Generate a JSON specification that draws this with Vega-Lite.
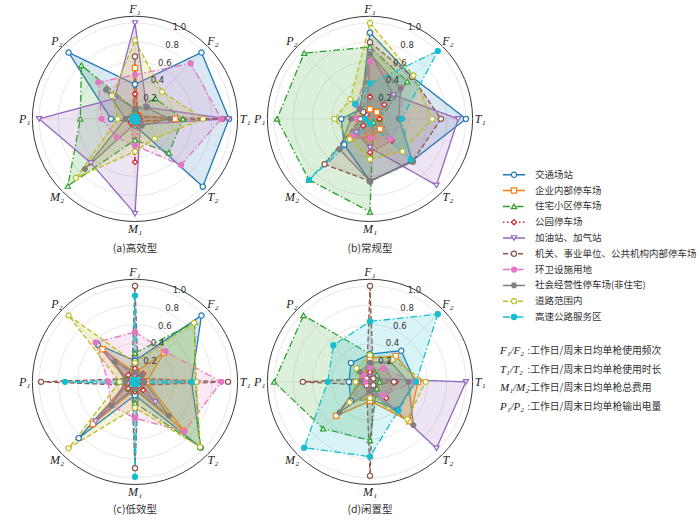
{
  "$schema": "https://vega.github.io/schema/vega-lite/v6.json",
  "padding": {"left": 18, "top": 0, "right": 0, "bottom": 0},
  "background": "white",
  "config": {"view": {"stroke": null}},
  "datasets": {
    "axes": [
      {"k": "F1", "i": 0, "lab": "F₁"}, {"k": "F2", "i": 1, "lab": "F₂"},
      {"k": "T1", "i": 2, "lab": "T₁"}, {"k": "T2", "i": 3, "lab": "T₂"},
      {"k": "M1", "i": 4, "lab": "M₁"}, {"k": "M2", "i": 5, "lab": "M₂"},
      {"k": "P1", "i": 6, "lab": "P₁"}, {"k": "P2", "i": 7, "lab": "P₂"}
    ],
    "series": [
      {"s": "交通场站", "n": 0},
      {"s": "企业内部停车场", "n": 1},
      {"s": "住宅小区停车场", "n": 2},
      {"s": "公园停车场", "n": 3},
      {"s": "加油站、加气站", "n": 4},
      {"s": "机关、事业单位、公共机构内部停车场", "n": 5},
      {"s": "环卫设施用地", "n": 6},
      {"s": "社会经营性停车场(非住宅)", "n": 7},
      {"s": "道路范围内", "n": 8},
      {"s": "高速公路服务区", "n": 9}
    ],
    "rings": [{"r": 0.2}, {"r": 0.4}, {"r": 0.6}, {"r": 0.8}, {"r": 1.0}, {"r": 1.07}],
    "caps": [
      {"p": "a", "t": "(a)高效型"}, {"p": "b", "t": "(b)常规型"},
      {"p": "c", "t": "(c)低效型"}, {"p": "d", "t": "(d)闲置型"}
    ],
    "notes": [
      {"sym": "F₁/F₂", "desc": ":工作日/周末日均单枪使用频次"},
      {"sym": "T₁/T₂", "desc": ":工作日/周末日均单枪使用时长"},
      {"sym": "M₁/M₂", "desc": ":工作日/周末日均单枪总费用"},
      {"sym": "P₁/P₂", "desc": ":工作日/周末日均单枪输出电量"}
    ],
    "pts": [
      {"p":"a","s":"交通场站","k":"F1","v":0.36},{"p":"a","s":"交通场站","k":"F2","v":0.98},{"p":"a","s":"交通场站","k":"T1","v":0.98},{"p":"a","s":"交通场站","k":"T2","v":1.0},{"p":"a","s":"交通场站","k":"M1","v":0.07},{"p":"a","s":"交通场站","k":"M2","v":0.05},{"p":"a","s":"交通场站","k":"P1","v":0.25},{"p":"a","s":"交通场站","k":"P2","v":0.98},
      {"p":"a","s":"企业内部停车场","k":"F1","v":0.53},{"p":"a","s":"企业内部停车场","k":"F2","v":0.05},{"p":"a","s":"企业内部停车场","k":"T1","v":0.42},{"p":"a","s":"企业内部停车场","k":"T2","v":0.05},{"p":"a","s":"企业内部停车场","k":"M1","v":0.05},{"p":"a","s":"企业内部停车场","k":"M2","v":0.04},{"p":"a","s":"企业内部停车场","k":"P1","v":0.05},{"p":"a","s":"企业内部停车场","k":"P2","v":0.03},
      {"p":"a","s":"住宅小区停车场","k":"F1","v":0.10},{"p":"a","s":"住宅小区停车场","k":"F2","v":0.30},{"p":"a","s":"住宅小区停车场","k":"T1","v":0.50},{"p":"a","s":"住宅小区停车场","k":"T2","v":0.50},{"p":"a","s":"住宅小区停车场","k":"M1","v":0.22},{"p":"a","s":"住宅小区停车场","k":"M2","v":0.99},{"p":"a","s":"住宅小区停车场","k":"P1","v":0.57},{"p":"a","s":"住宅小区停车场","k":"P2","v":0.79},
      {"p":"a","s":"公园停车场","k":"F1","v":0.26},{"p":"a","s":"公园停车场","k":"F2","v":0.05},{"p":"a","s":"公园停车场","k":"T1","v":0.05},{"p":"a","s":"公园停车场","k":"T2","v":0.05},{"p":"a","s":"公园停车场","k":"M1","v":0.45},{"p":"a","s":"公园停车场","k":"M2","v":0.06},{"p":"a","s":"公园停车场","k":"P1","v":0.06},{"p":"a","s":"公园停车场","k":"P2","v":0.03},
      {"p":"a","s":"加油站、加气站","k":"F1","v":1.0},{"p":"a","s":"加油站、加气站","k":"F2","v":0.17},{"p":"a","s":"加油站、加气站","k":"T1","v":0.97},{"p":"a","s":"加油站、加气站","k":"T2","v":0.08},{"p":"a","s":"加油站、加气站","k":"M1","v":0.99},{"p":"a","s":"加油站、加气站","k":"M2","v":0.65},{"p":"a","s":"加油站、加气站","k":"P1","v":1.0},{"p":"a","s":"加油站、加气站","k":"P2","v":0.30},
      {"p":"a","s":"机关、事业单位、公共机构内部停车场","k":"F1","v":0.65},{"p":"a","s":"机关、事业单位、公共机构内部停车场","k":"F2","v":0.03},{"p":"a","s":"机关、事业单位、公共机构内部停车场","k":"T1","v":0.91},{"p":"a","s":"机关、事业单位、公共机构内部停车场","k":"T2","v":0.03},{"p":"a","s":"机关、事业单位、公共机构内部停车场","k":"M1","v":0.03},{"p":"a","s":"机关、事业单位、公共机构内部停车场","k":"M2","v":0.03},{"p":"a","s":"机关、事业单位、公共机构内部停车场","k":"P1","v":0.05},{"p":"a","s":"机关、事业单位、公共机构内部停车场","k":"P2","v":0.03},
      {"p":"a","s":"环卫设施用地","k":"F1","v":0.46},{"p":"a","s":"环卫设施用地","k":"F2","v":0.82},{"p":"a","s":"环卫设施用地","k":"T1","v":0.90},{"p":"a","s":"环卫设施用地","k":"T2","v":0.68},{"p":"a","s":"环卫设施用地","k":"M1","v":0.28},{"p":"a","s":"环卫设施用地","k":"M2","v":0.27},{"p":"a","s":"环卫设施用地","k":"P1","v":0.35},{"p":"a","s":"环卫设施用地","k":"P2","v":0.54},
      {"p":"a","s":"社会经营性停车场(非住宅)","k":"F1","v":0.10},{"p":"a","s":"社会经营性停车场(非住宅)","k":"F2","v":0.17},{"p":"a","s":"社会经营性停车场(非住宅)","k":"T1","v":0.36},{"p":"a","s":"社会经营性停车场(非住宅)","k":"T2","v":0.10},{"p":"a","s":"社会经营性停车场(非住宅)","k":"M1","v":0.05},{"p":"a","s":"社会经营性停车场(非住宅)","k":"M2","v":0.74},{"p":"a","s":"社会经营性停车场(非住宅)","k":"P1","v":0.10},{"p":"a","s":"社会经营性停车场(非住宅)","k":"P2","v":0.43},
      {"p":"a","s":"道路范围内","k":"F1","v":0.82},{"p":"a","s":"道路范围内","k":"F2","v":0.40},{"p":"a","s":"道路范围内","k":"T1","v":0.71},{"p":"a","s":"道路范围内","k":"T2","v":0.29},{"p":"a","s":"道路范围内","k":"M1","v":0.34},{"p":"a","s":"道路范围内","k":"M2","v":0.87},{"p":"a","s":"道路范围内","k":"P1","v":0.18},{"p":"a","s":"道路范围内","k":"P2","v":0.34},
      {"p":"a","s":"高速公路服务区","k":"F1","v":0.03},{"p":"a","s":"高速公路服务区","k":"F2","v":0.03},{"p":"a","s":"高速公路服务区","k":"T1","v":0.03},{"p":"a","s":"高速公路服务区","k":"T2","v":0.03},{"p":"a","s":"高速公路服务区","k":"M1","v":0.03},{"p":"a","s":"高速公路服务区","k":"M2","v":0.03},{"p":"a","s":"高速公路服务区","k":"P1","v":0.03},{"p":"a","s":"高速公路服务区","k":"P2","v":0.03},

      {"p":"b","s":"交通场站","k":"F1","v":0.90},{"p":"b","s":"交通场站","k":"F2","v":0.62},{"p":"b","s":"交通场站","k":"T1","v":1.0},{"p":"b","s":"交通场站","k":"T2","v":0.62},{"p":"b","s":"交通场站","k":"M1","v":0.65},{"p":"b","s":"交通场站","k":"M2","v":0.38},{"p":"b","s":"交通场站","k":"P1","v":0.30},{"p":"b","s":"交通场站","k":"P2","v":0.14},
      {"p":"b","s":"企业内部停车场","k":"F1","v":0.10},{"p":"b","s":"企业内部停车场","k":"F2","v":0.10},{"p":"b","s":"企业内部停车场","k":"T1","v":0.10},{"p":"b","s":"企业内部停车场","k":"T2","v":0.15},{"p":"b","s":"企业内部停车场","k":"M1","v":0.20},{"p":"b","s":"企业内部停车场","k":"M2","v":0.28},{"p":"b","s":"企业内部停车场","k":"P1","v":0.10},{"p":"b","s":"企业内部停车场","k":"P2","v":0.05},
      {"p":"b","s":"住宅小区停车场","k":"F1","v":0.75},{"p":"b","s":"住宅小区停车场","k":"F2","v":0.55},{"p":"b","s":"住宅小区停车场","k":"T1","v":0.10},{"p":"b","s":"住宅小区停车场","k":"T2","v":0.05},{"p":"b","s":"住宅小区停车场","k":"M1","v":0.97},{"p":"b","s":"住宅小区停车场","k":"M2","v":0.90},{"p":"b","s":"住宅小区停车场","k":"P1","v":0.97},{"p":"b","s":"住宅小区停车场","k":"P2","v":0.97},
      {"p":"b","s":"公园停车场","k":"F1","v":0.23},{"p":"b","s":"公园停车场","k":"F2","v":0.21},{"p":"b","s":"公园停车场","k":"T1","v":0.10},{"p":"b","s":"公园停车场","k":"T2","v":0.32},{"p":"b","s":"公园停车场","k":"M1","v":0.35},{"p":"b","s":"公园停车场","k":"M2","v":0.10},{"p":"b","s":"公园停车场","k":"P1","v":0.05},{"p":"b","s":"公园停车场","k":"P2","v":0.05},
      {"p":"b","s":"加油站、加气站","k":"F1","v":0.70},{"p":"b","s":"加油站、加气站","k":"F2","v":0.35},{"p":"b","s":"加油站、加气站","k":"T1","v":0.92},{"p":"b","s":"加油站、加气站","k":"T2","v":0.98},{"p":"b","s":"加油站、加气站","k":"M1","v":0.30},{"p":"b","s":"加油站、加气站","k":"M2","v":0.20},{"p":"b","s":"加油站、加气站","k":"P1","v":0.05},{"p":"b","s":"加油站、加气站","k":"P2","v":0.05},
      {"p":"b","s":"机关、事业单位、公共机构内部停车场","k":"F1","v":0.80},{"p":"b","s":"机关、事业单位、公共机构内部停车场","k":"F2","v":0.62},{"p":"b","s":"机关、事业单位、公共机构内部停车场","k":"T1","v":0.74},{"p":"b","s":"机关、事业单位、公共机构内部停车场","k":"T2","v":0.63},{"p":"b","s":"机关、事业单位、公共机构内部停车场","k":"M1","v":0.65},{"p":"b","s":"机关、事业单位、公共机构内部停车场","k":"M2","v":0.67},{"p":"b","s":"机关、事业单位、公共机构内部停车场","k":"P1","v":0.10},{"p":"b","s":"机关、事业单位、公共机构内部停车场","k":"P2","v":0.10},
      {"p":"b","s":"环卫设施用地","k":"F1","v":0.60},{"p":"b","s":"环卫设施用地","k":"F2","v":0.46},{"p":"b","s":"环卫设施用地","k":"T1","v":0.34},{"p":"b","s":"环卫设施用地","k":"T2","v":0.30},{"p":"b","s":"环卫设施用地","k":"M1","v":0.20},{"p":"b","s":"环卫设施用地","k":"M2","v":0.25},{"p":"b","s":"环卫设施用地","k":"P1","v":0.15},{"p":"b","s":"环卫设施用地","k":"P2","v":0.20},
      {"p":"b","s":"社会经营性停车场(非住宅)","k":"F1","v":0.68},{"p":"b","s":"社会经营性停车场(非住宅)","k":"F2","v":0.45},{"p":"b","s":"社会经营性停车场(非住宅)","k":"T1","v":0.30},{"p":"b","s":"社会经营性停车场(非住宅)","k":"T2","v":0.63},{"p":"b","s":"社会经营性停车场(非住宅)","k":"M1","v":0.65},{"p":"b","s":"社会经营性停车场(非住宅)","k":"M2","v":0.45},{"p":"b","s":"社会经营性停车场(非住宅)","k":"P1","v":0.20},{"p":"b","s":"社会经营性停车场(非住宅)","k":"P2","v":0.15},
      {"p":"b","s":"道路范围内","k":"F1","v":1.0},{"p":"b","s":"道路范围内","k":"F2","v":0.64},{"p":"b","s":"道路范围内","k":"T1","v":0.65},{"p":"b","s":"道路范围内","k":"T2","v":0.48},{"p":"b","s":"道路范围内","k":"M1","v":0.42},{"p":"b","s":"道路范围内","k":"M2","v":0.30},{"p":"b","s":"道路范围内","k":"P1","v":0.37},{"p":"b","s":"道路范围内","k":"P2","v":0.29},
      {"p":"b","s":"高速公路服务区","k":"F1","v":0.37},{"p":"b","s":"高速公路服务区","k":"F2","v":1.0},{"p":"b","s":"高速公路服务区","k":"T1","v":0.33},{"p":"b","s":"高速公路服务区","k":"T2","v":0.60},{"p":"b","s":"高速公路服务区","k":"M1","v":0.05},{"p":"b","s":"高速公路服务区","k":"M2","v":0.90},{"p":"b","s":"高速公路服务区","k":"P1","v":0.05},{"p":"b","s":"高速公路服务区","k":"P2","v":0.22},

      {"p":"c","s":"交通场站","k":"F1","v":0.22},{"p":"c","s":"交通场站","k":"F2","v":0.98},{"p":"c","s":"交通场站","k":"T1","v":0.59},{"p":"c","s":"交通场站","k":"T2","v":0.97},{"p":"c","s":"交通场站","k":"M1","v":0.14},{"p":"c","s":"交通场站","k":"M2","v":0.83},{"p":"c","s":"交通场站","k":"P1","v":0.07},{"p":"c","s":"交通场站","k":"P2","v":0.55},
      {"p":"c","s":"企业内部停车场","k":"F1","v":0.10},{"p":"c","s":"企业内部停车场","k":"F2","v":0.43},{"p":"c","s":"企业内部停车场","k":"T1","v":0.12},{"p":"c","s":"企业内部停车场","k":"T2","v":0.72},{"p":"c","s":"企业内部停车场","k":"M1","v":0.08},{"p":"c","s":"企业内部停车场","k":"M2","v":0.62},{"p":"c","s":"企业内部停车场","k":"P1","v":0.08},{"p":"c","s":"企业内部停车场","k":"P2","v":0.48},
      {"p":"c","s":"住宅小区停车场","k":"F1","v":0.30},{"p":"c","s":"住宅小区停车场","k":"F2","v":0.88},{"p":"c","s":"住宅小区停车场","k":"T1","v":0.63},{"p":"c","s":"住宅小区停车场","k":"T2","v":0.96},{"p":"c","s":"住宅小区停车场","k":"M1","v":0.22},{"p":"c","s":"住宅小区停车场","k":"M2","v":0.10},{"p":"c","s":"住宅小区停车场","k":"P1","v":0.18},{"p":"c","s":"住宅小区停车场","k":"P2","v":0.10},
      {"p":"c","s":"公园停车场","k":"F1","v":0.14},{"p":"c","s":"公园停车场","k":"F2","v":0.12},{"p":"c","s":"公园停车场","k":"T1","v":0.10},{"p":"c","s":"公园停车场","k":"T2","v":0.12},{"p":"c","s":"公园停车场","k":"M1","v":0.10},{"p":"c","s":"公园停车场","k":"M2","v":0.10},{"p":"c","s":"公园停车场","k":"P1","v":0.10},{"p":"c","s":"公园停车场","k":"P2","v":0.10},
      {"p":"c","s":"加油站、加气站","k":"F1","v":0.05},{"p":"c","s":"加油站、加气站","k":"F2","v":0.05},{"p":"c","s":"加油站、加气站","k":"T1","v":0.05},{"p":"c","s":"加油站、加气站","k":"T2","v":0.30},{"p":"c","s":"加油站、加气站","k":"M1","v":0.05},{"p":"c","s":"加油站、加气站","k":"M2","v":0.58},{"p":"c","s":"加油站、加气站","k":"P1","v":0.05},{"p":"c","s":"加油站、加气站","k":"P2","v":0.57},
      {"p":"c","s":"机关、事业单位、公共机构内部停车场","k":"F1","v":1.0},{"p":"c","s":"机关、事业单位、公共机构内部停车场","k":"F2","v":0.05},{"p":"c","s":"机关、事业单位、公共机构内部停车场","k":"T1","v":0.97},{"p":"c","s":"机关、事业单位、公共机构内部停车场","k":"T2","v":0.05},{"p":"c","s":"机关、事业单位、公共机构内部停车场","k":"M1","v":0.90},{"p":"c","s":"机关、事业单位、公共机构内部停车场","k":"M2","v":0.05},{"p":"c","s":"机关、事业单位、公共机构内部停车场","k":"P1","v":0.98},{"p":"c","s":"机关、事业单位、公共机构内部停车场","k":"P2","v":0.05},
      {"p":"c","s":"环卫设施用地","k":"F1","v":0.52},{"p":"c","s":"环卫设施用地","k":"F2","v":0.45},{"p":"c","s":"环卫设施用地","k":"T1","v":0.90},{"p":"c","s":"环卫设施用地","k":"T2","v":0.73},{"p":"c","s":"环卫设施用地","k":"M1","v":0.38},{"p":"c","s":"环卫设施用地","k":"M2","v":0.35},{"p":"c","s":"环卫设施用地","k":"P1","v":0.28},{"p":"c","s":"环卫设施用地","k":"P2","v":0.58},
      {"p":"c","s":"社会经营性停车场(非住宅)","k":"F1","v":0.10},{"p":"c","s":"社会经营性停车场(非住宅)","k":"F2","v":0.10},{"p":"c","s":"社会经营性停车场(非住宅)","k":"T1","v":0.10},{"p":"c","s":"社会经营性停车场(非住宅)","k":"T2","v":0.50},{"p":"c","s":"社会经营性停车场(非住宅)","k":"M1","v":0.08},{"p":"c","s":"社会经营性停车场(非住宅)","k":"M2","v":0.35},{"p":"c","s":"社会经营性停车场(非住宅)","k":"P1","v":0.10},{"p":"c","s":"社会经营性停车场(非住宅)","k":"P2","v":0.30},
      {"p":"c","s":"道路范围内","k":"F1","v":0.20},{"p":"c","s":"道路范围内","k":"F2","v":0.87},{"p":"c","s":"道路范围内","k":"T1","v":0.64},{"p":"c","s":"道路范围内","k":"T2","v":0.96},{"p":"c","s":"道路范围内","k":"M1","v":0.27},{"p":"c","s":"道路范围内","k":"M2","v":0.98},{"p":"c","s":"道路范围内","k":"P1","v":0.16},{"p":"c","s":"道路范围内","k":"P2","v":0.98},
      {"p":"c","s":"高速公路服务区","k":"F1","v":0.90},{"p":"c","s":"高速公路服务区","k":"F2","v":0.03},{"p":"c","s":"高速公路服务区","k":"T1","v":0.59},{"p":"c","s":"高速公路服务区","k":"T2","v":0.03},{"p":"c","s":"高速公路服务区","k":"M1","v":0.99},{"p":"c","s":"高速公路服务区","k":"M2","v":0.03},{"p":"c","s":"高速公路服务区","k":"P1","v":0.73},{"p":"c","s":"高速公路服务区","k":"P2","v":0.03},

      {"p":"d","s":"交通场站","k":"F1","v":0.29},{"p":"d","s":"交通场站","k":"F2","v":0.46},{"p":"d","s":"交通场站","k":"T1","v":0.47},{"p":"d","s":"交通场站","k":"T2","v":0.41},{"p":"d","s":"交通场站","k":"M1","v":0.18},{"p":"d","s":"交通场站","k":"M2","v":0.28},{"p":"d","s":"交通场站","k":"P1","v":0.22},{"p":"d","s":"交通场站","k":"P2","v":0.28},
      {"p":"d","s":"企业内部停车场","k":"F1","v":0.25},{"p":"d","s":"企业内部停车场","k":"F2","v":0.38},{"p":"d","s":"企业内部停车场","k":"T1","v":0.50},{"p":"d","s":"企业内部停车场","k":"T2","v":0.58},{"p":"d","s":"企业内部停车场","k":"M1","v":0.20},{"p":"d","s":"企业内部停车场","k":"M2","v":0.50},{"p":"d","s":"企业内部停车场","k":"P1","v":0.10},{"p":"d","s":"企业内部停车场","k":"P2","v":0.10},
      {"p":"d","s":"住宅小区停车场","k":"F1","v":0.29},{"p":"d","s":"住宅小区停车场","k":"F2","v":0.10},{"p":"d","s":"住宅小区停车场","k":"T1","v":0.10},{"p":"d","s":"住宅小区停车场","k":"T2","v":0.10},{"p":"d","s":"住宅小区停车场","k":"M1","v":0.61},{"p":"d","s":"住宅小区停车场","k":"M2","v":0.69},{"p":"d","s":"住宅小区停车场","k":"P1","v":1.0},{"p":"d","s":"住宅小区停车场","k":"P2","v":0.98},
      {"p":"d","s":"公园停车场","k":"F1","v":0.10},{"p":"d","s":"公园停车场","k":"F2","v":0.20},{"p":"d","s":"公园停车场","k":"T1","v":0.27},{"p":"d","s":"公园停车场","k":"T2","v":0.24},{"p":"d","s":"公园停车场","k":"M1","v":0.14},{"p":"d","s":"公园停车场","k":"M2","v":0.05},{"p":"d","s":"公园停车场","k":"P1","v":0.05},{"p":"d","s":"公园停车场","k":"P2","v":0.05},
      {"p":"d","s":"加油站、加气站","k":"F1","v":0.05},{"p":"d","s":"加油站、加气站","k":"F2","v":0.05},{"p":"d","s":"加油站、加气站","k":"T1","v":1.0},{"p":"d","s":"加油站、加气站","k":"T2","v":0.98},{"p":"d","s":"加油站、加气站","k":"M1","v":0.05},{"p":"d","s":"加油站、加气站","k":"M2","v":0.05},{"p":"d","s":"加油站、加气站","k":"P1","v":0.05},{"p":"d","s":"加油站、加气站","k":"P2","v":0.05},
      {"p":"d","s":"机关、事业单位、公共机构内部停车场","k":"F1","v":1.0},{"p":"d","s":"机关、事业单位、公共机构内部停车场","k":"F2","v":0.05},{"p":"d","s":"机关、事业单位、公共机构内部停车场","k":"T1","v":0.25},{"p":"d","s":"机关、事业单位、公共机构内部停车场","k":"T2","v":0.05},{"p":"d","s":"机关、事业单位、公共机构内部停车场","k":"M1","v":0.98},{"p":"d","s":"机关、事业单位、公共机构内部停车场","k":"M2","v":0.05},{"p":"d","s":"机关、事业单位、公共机构内部停车场","k":"P1","v":0.70},{"p":"d","s":"机关、事业单位、公共机构内部停车场","k":"P2","v":0.05},
      {"p":"d","s":"环卫设施用地","k":"F1","v":0.15},{"p":"d","s":"环卫设施用地","k":"F2","v":0.20},{"p":"d","s":"环卫设施用地","k":"T1","v":0.45},{"p":"d","s":"环卫设施用地","k":"T2","v":0.20},{"p":"d","s":"环卫设施用地","k":"M1","v":0.15},{"p":"d","s":"环卫设施用地","k":"M2","v":0.30},{"p":"d","s":"环卫设施用地","k":"P1","v":0.05},{"p":"d","s":"环卫设施用地","k":"P2","v":0.10},
      {"p":"d","s":"社会经营性停车场(非住宅)","k":"F1","v":0.20},{"p":"d","s":"社会经营性停车场(非住宅)","k":"F2","v":0.30},{"p":"d","s":"社会经营性停车场(非住宅)","k":"T1","v":0.40},{"p":"d","s":"社会经营性停车场(非住宅)","k":"T2","v":0.64},{"p":"d","s":"社会经营性停车场(非住宅)","k":"M1","v":0.10},{"p":"d","s":"社会经营性停车场(非住宅)","k":"M2","v":0.45},{"p":"d","s":"社会经营性停车场(非住宅)","k":"P1","v":0.10},{"p":"d","s":"社会经营性停车场(非住宅)","k":"P2","v":0.15},
      {"p":"d","s":"道路范围内","k":"F1","v":0.28},{"p":"d","s":"道路范围内","k":"F2","v":0.33},{"p":"d","s":"道路范围内","k":"T1","v":0.58},{"p":"d","s":"道路范围内","k":"T2","v":0.55},{"p":"d","s":"道路范围内","k":"M1","v":0.17},{"p":"d","s":"道路范围内","k":"M2","v":0.30},{"p":"d","s":"道路范围内","k":"P1","v":0.15},{"p":"d","s":"道路范围内","k":"P2","v":0.20},
      {"p":"d","s":"高速公路服务区","k":"F1","v":0.63},{"p":"d","s":"高速公路服务区","k":"F2","v":1.0},{"p":"d","s":"高速公路服务区","k":"T1","v":0.48},{"p":"d","s":"高速公路服务区","k":"T2","v":0.42},{"p":"d","s":"高速公路服务区","k":"M1","v":0.78},{"p":"d","s":"高速公路服务区","k":"M2","v":0.97},{"p":"d","s":"高速公路服务区","k":"P1","v":0.44},{"p":"d","s":"高速公路服务区","k":"P2","v":0.54}
    ]
  },
  "spacing": 0,
  "hconcat": [
    {
      "spacing": 8,
      "vconcat": [
        {
          "spacing": 1,
          "hconcat": [
            {
              "width": 234, "height": 255,
              "resolve": {"scale": {"fill": "independent", "size": "independent"}},
              "layer": [
                {"data": {"name": "rings"}, "mark": {"type": "point", "shape": "circle", "filled": false, "opacity": 1},
                 "encoding": {"x": {"datum": 0, "type": "quantitative", "scale": {"domain": [-1.22, 1.22]}, "axis": null}, "y": {"datum": 0, "type": "quantitative", "scale": {"domain": [-1.42, 1.24]}, "axis": null},
                  "size": {"field": "r", "type": "quantitative", "scale": {"type": "pow", "exponent": 2, "domain": [0, 1], "range": [0, 36787]}, "legend": null},
                  "stroke": {"condition": {"test": "datum.r>1", "value": "#3a3a3a"}, "value": "#e2e2e2"},
                  "strokeWidth": {"condition": {"test": "datum.r>1", "value": 1}, "value": 0.8}}},
                {"data": {"name": "axes"}, "transform": [{"calculate": "PI/2-datum.i*PI/4", "as": "ang"}, {"calculate": "1.07*cos(datum.ang)", "as": "ex"}, {"calculate": "1.07*sin(datum.ang)", "as": "ey"}],
                 "mark": {"type": "rule", "color": "#e6e6e6", "strokeWidth": 0.8},
                 "encoding": {"x": {"field": "ex", "type": "quantitative", "scale": {"domain": [-1.22, 1.22]}, "axis": null}, "y": {"field": "ey", "type": "quantitative", "scale": {"domain": [-1.42, 1.24]}, "axis": null}, "x2": {"datum": 0}, "y2": {"datum": 0}}},
                {"data": {"name": "pts"}, "transform": [{"filter": "datum.p=='a'"}, {"lookup": "k", "from": {"data": {"name": "axes"}, "key": "k", "fields": ["i"]}}, {"lookup": "s", "from": {"data": {"name": "series"}, "key": "s", "fields": ["n"]}}, {"calculate": "PI/2-datum.i*PI/4", "as": "ang"}, {"calculate": "datum.v*cos(datum.ang)", "as": "x"}, {"calculate": "datum.v*sin(datum.ang)", "as": "y"}],
                 "mark": {"type": "line", "interpolate": "linear-closed", "strokeWidth": 1.3, "fillOpacity": 0.17},
                 "encoding": {"x": {"field": "x", "type": "quantitative", "scale": {"domain": [-1.22, 1.22]}, "axis": null}, "y": {"field": "y", "type": "quantitative", "scale": {"domain": [-1.42, 1.24]}, "axis": null}, "order": {"field": "i", "type": "quantitative"},
                  "color": {"field": "n", "type": "ordinal", "scale": {"domain": [0,1,2,3,4,5,6,7,8,9], "range": ["#1f77b4","#ff7f0e","#2ca02c","#d62728","#9467bd","#8c564b","#e377c2","#7f7f7f","#bcbd22","#17becf"]}, "legend": null},
                  "fill": {"field": "n", "type": "ordinal", "scale": {"domain": [0,1,2,3,4,5,6,7,8,9], "range": ["#1f77b4","#ff7f0e","#2ca02c","#d62728","#9467bd","#8c564b","#e377c2","#7f7f7f","#bcbd22","#17becf"]}, "legend": null},
                  "strokeDash": {"field": "n", "type": "ordinal", "scale": {"domain": [0,1,2,3,4,5,6,7,8,9], "range": [[1,0],[1,0],[7,2.5,1.5,2.5],[1.5,2.5],[1,0],[5,2.5],[7,2.5,1.5,2.5],[1,0],[5,2.5],[7,2.5,1.5,2.5]]}, "legend": null}}},
                {"data": {"name": "pts"}, "transform": [{"filter": "datum.p=='a'"}, {"lookup": "k", "from": {"data": {"name": "axes"}, "key": "k", "fields": ["i"]}}, {"lookup": "s", "from": {"data": {"name": "series"}, "key": "s", "fields": ["n"]}}, {"calculate": "PI/2-datum.i*PI/4", "as": "ang"}, {"calculate": "datum.v*cos(datum.ang)", "as": "x"}, {"calculate": "datum.v*sin(datum.ang)", "as": "y"}],
                 "mark": {"type": "point", "opacity": 1, "strokeWidth": 1.2, "fillOpacity": 1},
                 "encoding": {"x": {"field": "x", "type": "quantitative", "scale": {"domain": [-1.22, 1.22]}, "axis": null}, "y": {"field": "y", "type": "quantitative", "scale": {"domain": [-1.42, 1.24]}, "axis": null},
                  "color": {"field": "n", "type": "ordinal", "scale": {"domain": [0,1,2,3,4,5,6,7,8,9], "range": ["#1f77b4","#ff7f0e","#2ca02c","#d62728","#9467bd","#8c564b","#e377c2","#7f7f7f","#bcbd22","#17becf"]}, "legend": null},
                  "fill": {"field": "n", "type": "ordinal", "scale": {"domain": [0,1,2,3,4,5,6,7,8,9], "range": ["#ffffff","#ffffff","#ffffff","#ffffff","#ffffff","#ffffff","#e377c2","#7f7f7f","#ffffff","#17becf"]}, "legend": null},
                  "shape": {"field": "n", "type": "ordinal", "scale": {"domain": [0,1,2,3,4,5,6,7,8,9], "range": ["circle","square","triangle-up","diamond","triangle-down","circle","circle","M-1,0L-0.5,-0.866L0.5,-0.866L1,0L0.5,0.866L-0.5,0.866Z","circle","circle"]}, "legend": null},
                  "size": {"field": "n", "type": "ordinal", "scale": {"domain": [0,1,2,3,4,5,6,7,8,9], "range": [28,26,28,26,28,26,12,26,26,12]}, "legend": null}}},
                {"data": {"name": "rings"}, "transform": [{"filter": "datum.r<=1"}, {"calculate": "datum.r*cos(3*PI/8)", "as": "tx"}, {"calculate": "datum.r*sin(3*PI/8)", "as": "ty"}],
                 "mark": {"type": "text", "align": "left", "baseline": "middle", "dx": 1, "dy": -3, "fontSize": 8.5, "font": "DejaVu Sans", "color": "#333333"},
                 "encoding": {"x": {"field": "tx", "type": "quantitative", "scale": {"domain": [-1.22, 1.22]}, "axis": null}, "y": {"field": "ty", "type": "quantitative", "scale": {"domain": [-1.42, 1.24]}, "axis": null}, "text": {"field": "r", "type": "quantitative", "format": ".1f"}}},
                {"data": {"name": "axes"}, "transform": [{"calculate": "PI/2-datum.i*PI/4", "as": "ang"}, {"calculate": "1.15*cos(datum.ang)", "as": "lx"}, {"calculate": "1.15*sin(datum.ang)", "as": "ly"}],
                 "mark": {"type": "text", "font": "Liberation Serif", "fontStyle": "italic", "fontSize": 12, "color": "#222222"},
                 "encoding": {"x": {"field": "lx", "type": "quantitative", "scale": {"domain": [-1.22, 1.22]}, "axis": null}, "y": {"field": "ly", "type": "quantitative", "scale": {"domain": [-1.42, 1.24]}, "axis": null}, "text": {"field": "lab", "type": "nominal"}}},
                {"data": {"name": "caps"}, "transform": [{"filter": "datum.p=='a'"}],
                 "mark": {"type": "text", "font": "Noto Sans CJK SC", "fontSize": 10.5, "color": "#333333"},
                 "encoding": {"x": {"datum": 0, "type": "quantitative", "scale": {"domain": [-1.22, 1.22]}, "axis": null}, "y": {"datum": -1.36, "type": "quantitative", "scale": {"domain": [-1.42, 1.24]}, "axis": null}, "text": {"field": "t", "type": "nominal"}}}
              ]
            },
            {
              "width": 234, "height": 255,
              "resolve": {"scale": {"fill": "independent", "size": "independent"}},
              "layer": [
                {"data": {"name": "rings"}, "mark": {"type": "point", "shape": "circle", "filled": false, "opacity": 1},
                 "encoding": {"x": {"datum": 0, "type": "quantitative", "scale": {"domain": [-1.22, 1.22]}, "axis": null}, "y": {"datum": 0, "type": "quantitative", "scale": {"domain": [-1.42, 1.24]}, "axis": null},
                  "size": {"field": "r", "type": "quantitative", "scale": {"type": "pow", "exponent": 2, "domain": [0, 1], "range": [0, 36787]}, "legend": null},
                  "stroke": {"condition": {"test": "datum.r>1", "value": "#3a3a3a"}, "value": "#e2e2e2"},
                  "strokeWidth": {"condition": {"test": "datum.r>1", "value": 1}, "value": 0.8}}},
                {"data": {"name": "axes"}, "transform": [{"calculate": "PI/2-datum.i*PI/4", "as": "ang"}, {"calculate": "1.07*cos(datum.ang)", "as": "ex"}, {"calculate": "1.07*sin(datum.ang)", "as": "ey"}],
                 "mark": {"type": "rule", "color": "#e6e6e6", "strokeWidth": 0.8},
                 "encoding": {"x": {"field": "ex", "type": "quantitative", "scale": {"domain": [-1.22, 1.22]}, "axis": null}, "y": {"field": "ey", "type": "quantitative", "scale": {"domain": [-1.42, 1.24]}, "axis": null}, "x2": {"datum": 0}, "y2": {"datum": 0}}},
                {"data": {"name": "pts"}, "transform": [{"filter": "datum.p=='b'"}, {"lookup": "k", "from": {"data": {"name": "axes"}, "key": "k", "fields": ["i"]}}, {"lookup": "s", "from": {"data": {"name": "series"}, "key": "s", "fields": ["n"]}}, {"calculate": "PI/2-datum.i*PI/4", "as": "ang"}, {"calculate": "datum.v*cos(datum.ang)", "as": "x"}, {"calculate": "datum.v*sin(datum.ang)", "as": "y"}],
                 "mark": {"type": "line", "interpolate": "linear-closed", "strokeWidth": 1.3, "fillOpacity": 0.17},
                 "encoding": {"x": {"field": "x", "type": "quantitative", "scale": {"domain": [-1.22, 1.22]}, "axis": null}, "y": {"field": "y", "type": "quantitative", "scale": {"domain": [-1.42, 1.24]}, "axis": null}, "order": {"field": "i", "type": "quantitative"},
                  "color": {"field": "n", "type": "ordinal", "scale": {"domain": [0,1,2,3,4,5,6,7,8,9], "range": ["#1f77b4","#ff7f0e","#2ca02c","#d62728","#9467bd","#8c564b","#e377c2","#7f7f7f","#bcbd22","#17becf"]}, "legend": null},
                  "fill": {"field": "n", "type": "ordinal", "scale": {"domain": [0,1,2,3,4,5,6,7,8,9], "range": ["#1f77b4","#ff7f0e","#2ca02c","#d62728","#9467bd","#8c564b","#e377c2","#7f7f7f","#bcbd22","#17becf"]}, "legend": null},
                  "strokeDash": {"field": "n", "type": "ordinal", "scale": {"domain": [0,1,2,3,4,5,6,7,8,9], "range": [[1,0],[1,0],[7,2.5,1.5,2.5],[1.5,2.5],[1,0],[5,2.5],[7,2.5,1.5,2.5],[1,0],[5,2.5],[7,2.5,1.5,2.5]]}, "legend": null}}},
                {"data": {"name": "pts"}, "transform": [{"filter": "datum.p=='b'"}, {"lookup": "k", "from": {"data": {"name": "axes"}, "key": "k", "fields": ["i"]}}, {"lookup": "s", "from": {"data": {"name": "series"}, "key": "s", "fields": ["n"]}}, {"calculate": "PI/2-datum.i*PI/4", "as": "ang"}, {"calculate": "datum.v*cos(datum.ang)", "as": "x"}, {"calculate": "datum.v*sin(datum.ang)", "as": "y"}],
                 "mark": {"type": "point", "opacity": 1, "strokeWidth": 1.2, "fillOpacity": 1},
                 "encoding": {"x": {"field": "x", "type": "quantitative", "scale": {"domain": [-1.22, 1.22]}, "axis": null}, "y": {"field": "y", "type": "quantitative", "scale": {"domain": [-1.42, 1.24]}, "axis": null},
                  "color": {"field": "n", "type": "ordinal", "scale": {"domain": [0,1,2,3,4,5,6,7,8,9], "range": ["#1f77b4","#ff7f0e","#2ca02c","#d62728","#9467bd","#8c564b","#e377c2","#7f7f7f","#bcbd22","#17becf"]}, "legend": null},
                  "fill": {"field": "n", "type": "ordinal", "scale": {"domain": [0,1,2,3,4,5,6,7,8,9], "range": ["#ffffff","#ffffff","#ffffff","#ffffff","#ffffff","#ffffff","#e377c2","#7f7f7f","#ffffff","#17becf"]}, "legend": null},
                  "shape": {"field": "n", "type": "ordinal", "scale": {"domain": [0,1,2,3,4,5,6,7,8,9], "range": ["circle","square","triangle-up","diamond","triangle-down","circle","circle","M-1,0L-0.5,-0.866L0.5,-0.866L1,0L0.5,0.866L-0.5,0.866Z","circle","circle"]}, "legend": null},
                  "size": {"field": "n", "type": "ordinal", "scale": {"domain": [0,1,2,3,4,5,6,7,8,9], "range": [28,26,28,26,28,26,12,26,26,12]}, "legend": null}}},
                {"data": {"name": "rings"}, "transform": [{"filter": "datum.r<=1"}, {"calculate": "datum.r*cos(3*PI/8)", "as": "tx"}, {"calculate": "datum.r*sin(3*PI/8)", "as": "ty"}],
                 "mark": {"type": "text", "align": "left", "baseline": "middle", "dx": 1, "dy": -3, "fontSize": 8.5, "font": "DejaVu Sans", "color": "#333333"},
                 "encoding": {"x": {"field": "tx", "type": "quantitative", "scale": {"domain": [-1.22, 1.22]}, "axis": null}, "y": {"field": "ty", "type": "quantitative", "scale": {"domain": [-1.42, 1.24]}, "axis": null}, "text": {"field": "r", "type": "quantitative", "format": ".1f"}}},
                {"data": {"name": "axes"}, "transform": [{"calculate": "PI/2-datum.i*PI/4", "as": "ang"}, {"calculate": "1.15*cos(datum.ang)", "as": "lx"}, {"calculate": "1.15*sin(datum.ang)", "as": "ly"}],
                 "mark": {"type": "text", "font": "Liberation Serif", "fontStyle": "italic", "fontSize": 12, "color": "#222222"},
                 "encoding": {"x": {"field": "lx", "type": "quantitative", "scale": {"domain": [-1.22, 1.22]}, "axis": null}, "y": {"field": "ly", "type": "quantitative", "scale": {"domain": [-1.42, 1.24]}, "axis": null}, "text": {"field": "lab", "type": "nominal"}}},
                {"data": {"name": "caps"}, "transform": [{"filter": "datum.p=='b'"}],
                 "mark": {"type": "text", "font": "Noto Sans CJK SC", "fontSize": 10.5, "color": "#333333"},
                 "encoding": {"x": {"datum": 0, "type": "quantitative", "scale": {"domain": [-1.22, 1.22]}, "axis": null}, "y": {"datum": -1.36, "type": "quantitative", "scale": {"domain": [-1.42, 1.24]}, "axis": null}, "text": {"field": "t", "type": "nominal"}}}
              ]
            }
          ]
        },
        {
          "spacing": 1,
          "hconcat": [
            {
              "width": 234, "height": 255,
              "resolve": {"scale": {"fill": "independent", "size": "independent"}},
              "layer": [
                {"data": {"name": "rings"}, "mark": {"type": "point", "shape": "circle", "filled": false, "opacity": 1},
                 "encoding": {"x": {"datum": 0, "type": "quantitative", "scale": {"domain": [-1.22, 1.22]}, "axis": null}, "y": {"datum": 0, "type": "quantitative", "scale": {"domain": [-1.42, 1.24]}, "axis": null},
                  "size": {"field": "r", "type": "quantitative", "scale": {"type": "pow", "exponent": 2, "domain": [0, 1], "range": [0, 36787]}, "legend": null},
                  "stroke": {"condition": {"test": "datum.r>1", "value": "#3a3a3a"}, "value": "#e2e2e2"},
                  "strokeWidth": {"condition": {"test": "datum.r>1", "value": 1}, "value": 0.8}}},
                {"data": {"name": "axes"}, "transform": [{"calculate": "PI/2-datum.i*PI/4", "as": "ang"}, {"calculate": "1.07*cos(datum.ang)", "as": "ex"}, {"calculate": "1.07*sin(datum.ang)", "as": "ey"}],
                 "mark": {"type": "rule", "color": "#e6e6e6", "strokeWidth": 0.8},
                 "encoding": {"x": {"field": "ex", "type": "quantitative", "scale": {"domain": [-1.22, 1.22]}, "axis": null}, "y": {"field": "ey", "type": "quantitative", "scale": {"domain": [-1.42, 1.24]}, "axis": null}, "x2": {"datum": 0}, "y2": {"datum": 0}}},
                {"data": {"name": "pts"}, "transform": [{"filter": "datum.p=='c'"}, {"lookup": "k", "from": {"data": {"name": "axes"}, "key": "k", "fields": ["i"]}}, {"lookup": "s", "from": {"data": {"name": "series"}, "key": "s", "fields": ["n"]}}, {"calculate": "PI/2-datum.i*PI/4", "as": "ang"}, {"calculate": "datum.v*cos(datum.ang)", "as": "x"}, {"calculate": "datum.v*sin(datum.ang)", "as": "y"}],
                 "mark": {"type": "line", "interpolate": "linear-closed", "strokeWidth": 1.3, "fillOpacity": 0.17},
                 "encoding": {"x": {"field": "x", "type": "quantitative", "scale": {"domain": [-1.22, 1.22]}, "axis": null}, "y": {"field": "y", "type": "quantitative", "scale": {"domain": [-1.42, 1.24]}, "axis": null}, "order": {"field": "i", "type": "quantitative"},
                  "color": {"field": "n", "type": "ordinal", "scale": {"domain": [0,1,2,3,4,5,6,7,8,9], "range": ["#1f77b4","#ff7f0e","#2ca02c","#d62728","#9467bd","#8c564b","#e377c2","#7f7f7f","#bcbd22","#17becf"]}, "legend": null},
                  "fill": {"field": "n", "type": "ordinal", "scale": {"domain": [0,1,2,3,4,5,6,7,8,9], "range": ["#1f77b4","#ff7f0e","#2ca02c","#d62728","#9467bd","#8c564b","#e377c2","#7f7f7f","#bcbd22","#17becf"]}, "legend": null},
                  "strokeDash": {"field": "n", "type": "ordinal", "scale": {"domain": [0,1,2,3,4,5,6,7,8,9], "range": [[1,0],[1,0],[7,2.5,1.5,2.5],[1.5,2.5],[1,0],[5,2.5],[7,2.5,1.5,2.5],[1,0],[5,2.5],[7,2.5,1.5,2.5]]}, "legend": null}}},
                {"data": {"name": "pts"}, "transform": [{"filter": "datum.p=='c'"}, {"lookup": "k", "from": {"data": {"name": "axes"}, "key": "k", "fields": ["i"]}}, {"lookup": "s", "from": {"data": {"name": "series"}, "key": "s", "fields": ["n"]}}, {"calculate": "PI/2-datum.i*PI/4", "as": "ang"}, {"calculate": "datum.v*cos(datum.ang)", "as": "x"}, {"calculate": "datum.v*sin(datum.ang)", "as": "y"}],
                 "mark": {"type": "point", "opacity": 1, "strokeWidth": 1.2, "fillOpacity": 1},
                 "encoding": {"x": {"field": "x", "type": "quantitative", "scale": {"domain": [-1.22, 1.22]}, "axis": null}, "y": {"field": "y", "type": "quantitative", "scale": {"domain": [-1.42, 1.24]}, "axis": null},
                  "color": {"field": "n", "type": "ordinal", "scale": {"domain": [0,1,2,3,4,5,6,7,8,9], "range": ["#1f77b4","#ff7f0e","#2ca02c","#d62728","#9467bd","#8c564b","#e377c2","#7f7f7f","#bcbd22","#17becf"]}, "legend": null},
                  "fill": {"field": "n", "type": "ordinal", "scale": {"domain": [0,1,2,3,4,5,6,7,8,9], "range": ["#ffffff","#ffffff","#ffffff","#ffffff","#ffffff","#ffffff","#e377c2","#7f7f7f","#ffffff","#17becf"]}, "legend": null},
                  "shape": {"field": "n", "type": "ordinal", "scale": {"domain": [0,1,2,3,4,5,6,7,8,9], "range": ["circle","square","triangle-up","diamond","triangle-down","circle","circle","M-1,0L-0.5,-0.866L0.5,-0.866L1,0L0.5,0.866L-0.5,0.866Z","circle","circle"]}, "legend": null},
                  "size": {"field": "n", "type": "ordinal", "scale": {"domain": [0,1,2,3,4,5,6,7,8,9], "range": [28,26,28,26,28,26,12,26,26,12]}, "legend": null}}},
                {"data": {"name": "rings"}, "transform": [{"filter": "datum.r<=1"}, {"calculate": "datum.r*cos(3*PI/8)", "as": "tx"}, {"calculate": "datum.r*sin(3*PI/8)", "as": "ty"}],
                 "mark": {"type": "text", "align": "left", "baseline": "middle", "dx": 1, "dy": -3, "fontSize": 8.5, "font": "DejaVu Sans", "color": "#333333"},
                 "encoding": {"x": {"field": "tx", "type": "quantitative", "scale": {"domain": [-1.22, 1.22]}, "axis": null}, "y": {"field": "ty", "type": "quantitative", "scale": {"domain": [-1.42, 1.24]}, "axis": null}, "text": {"field": "r", "type": "quantitative", "format": ".1f"}}},
                {"data": {"name": "axes"}, "transform": [{"calculate": "PI/2-datum.i*PI/4", "as": "ang"}, {"calculate": "1.15*cos(datum.ang)", "as": "lx"}, {"calculate": "1.15*sin(datum.ang)", "as": "ly"}],
                 "mark": {"type": "text", "font": "Liberation Serif", "fontStyle": "italic", "fontSize": 12, "color": "#222222"},
                 "encoding": {"x": {"field": "lx", "type": "quantitative", "scale": {"domain": [-1.22, 1.22]}, "axis": null}, "y": {"field": "ly", "type": "quantitative", "scale": {"domain": [-1.42, 1.24]}, "axis": null}, "text": {"field": "lab", "type": "nominal"}}},
                {"data": {"name": "caps"}, "transform": [{"filter": "datum.p=='c'"}],
                 "mark": {"type": "text", "font": "Noto Sans CJK SC", "fontSize": 10.5, "color": "#333333"},
                 "encoding": {"x": {"datum": 0, "type": "quantitative", "scale": {"domain": [-1.22, 1.22]}, "axis": null}, "y": {"datum": -1.34, "type": "quantitative", "scale": {"domain": [-1.42, 1.24]}, "axis": null}, "text": {"field": "t", "type": "nominal"}}}
              ]
            },
            {
              "width": 234, "height": 255,
              "resolve": {"scale": {"fill": "independent", "size": "independent"}},
              "layer": [
                {"data": {"name": "rings"}, "mark": {"type": "point", "shape": "circle", "filled": false, "opacity": 1},
                 "encoding": {"x": {"datum": 0, "type": "quantitative", "scale": {"domain": [-1.22, 1.22]}, "axis": null}, "y": {"datum": 0, "type": "quantitative", "scale": {"domain": [-1.42, 1.24]}, "axis": null},
                  "size": {"field": "r", "type": "quantitative", "scale": {"type": "pow", "exponent": 2, "domain": [0, 1], "range": [0, 36787]}, "legend": null},
                  "stroke": {"condition": {"test": "datum.r>1", "value": "#3a3a3a"}, "value": "#e2e2e2"},
                  "strokeWidth": {"condition": {"test": "datum.r>1", "value": 1}, "value": 0.8}}},
                {"data": {"name": "axes"}, "transform": [{"calculate": "PI/2-datum.i*PI/4", "as": "ang"}, {"calculate": "1.07*cos(datum.ang)", "as": "ex"}, {"calculate": "1.07*sin(datum.ang)", "as": "ey"}],
                 "mark": {"type": "rule", "color": "#e6e6e6", "strokeWidth": 0.8},
                 "encoding": {"x": {"field": "ex", "type": "quantitative", "scale": {"domain": [-1.22, 1.22]}, "axis": null}, "y": {"field": "ey", "type": "quantitative", "scale": {"domain": [-1.42, 1.24]}, "axis": null}, "x2": {"datum": 0}, "y2": {"datum": 0}}},
                {"data": {"name": "pts"}, "transform": [{"filter": "datum.p=='d'"}, {"lookup": "k", "from": {"data": {"name": "axes"}, "key": "k", "fields": ["i"]}}, {"lookup": "s", "from": {"data": {"name": "series"}, "key": "s", "fields": ["n"]}}, {"calculate": "PI/2-datum.i*PI/4", "as": "ang"}, {"calculate": "datum.v*cos(datum.ang)", "as": "x"}, {"calculate": "datum.v*sin(datum.ang)", "as": "y"}],
                 "mark": {"type": "line", "interpolate": "linear-closed", "strokeWidth": 1.3, "fillOpacity": 0.17},
                 "encoding": {"x": {"field": "x", "type": "quantitative", "scale": {"domain": [-1.22, 1.22]}, "axis": null}, "y": {"field": "y", "type": "quantitative", "scale": {"domain": [-1.42, 1.24]}, "axis": null}, "order": {"field": "i", "type": "quantitative"},
                  "color": {"field": "n", "type": "ordinal", "scale": {"domain": [0,1,2,3,4,5,6,7,8,9], "range": ["#1f77b4","#ff7f0e","#2ca02c","#d62728","#9467bd","#8c564b","#e377c2","#7f7f7f","#bcbd22","#17becf"]}, "legend": null},
                  "fill": {"field": "n", "type": "ordinal", "scale": {"domain": [0,1,2,3,4,5,6,7,8,9], "range": ["#1f77b4","#ff7f0e","#2ca02c","#d62728","#9467bd","#8c564b","#e377c2","#7f7f7f","#bcbd22","#17becf"]}, "legend": null},
                  "strokeDash": {"field": "n", "type": "ordinal", "scale": {"domain": [0,1,2,3,4,5,6,7,8,9], "range": [[1,0],[1,0],[7,2.5,1.5,2.5],[1.5,2.5],[1,0],[5,2.5],[7,2.5,1.5,2.5],[1,0],[5,2.5],[7,2.5,1.5,2.5]]}, "legend": null}}},
                {"data": {"name": "pts"}, "transform": [{"filter": "datum.p=='d'"}, {"lookup": "k", "from": {"data": {"name": "axes"}, "key": "k", "fields": ["i"]}}, {"lookup": "s", "from": {"data": {"name": "series"}, "key": "s", "fields": ["n"]}}, {"calculate": "PI/2-datum.i*PI/4", "as": "ang"}, {"calculate": "datum.v*cos(datum.ang)", "as": "x"}, {"calculate": "datum.v*sin(datum.ang)", "as": "y"}],
                 "mark": {"type": "point", "opacity": 1, "strokeWidth": 1.2, "fillOpacity": 1},
                 "encoding": {"x": {"field": "x", "type": "quantitative", "scale": {"domain": [-1.22, 1.22]}, "axis": null}, "y": {"field": "y", "type": "quantitative", "scale": {"domain": [-1.42, 1.24]}, "axis": null},
                  "color": {"field": "n", "type": "ordinal", "scale": {"domain": [0,1,2,3,4,5,6,7,8,9], "range": ["#1f77b4","#ff7f0e","#2ca02c","#d62728","#9467bd","#8c564b","#e377c2","#7f7f7f","#bcbd22","#17becf"]}, "legend": null},
                  "fill": {"field": "n", "type": "ordinal", "scale": {"domain": [0,1,2,3,4,5,6,7,8,9], "range": ["#ffffff","#ffffff","#ffffff","#ffffff","#ffffff","#ffffff","#e377c2","#7f7f7f","#ffffff","#17becf"]}, "legend": null},
                  "shape": {"field": "n", "type": "ordinal", "scale": {"domain": [0,1,2,3,4,5,6,7,8,9], "range": ["circle","square","triangle-up","diamond","triangle-down","circle","circle","M-1,0L-0.5,-0.866L0.5,-0.866L1,0L0.5,0.866L-0.5,0.866Z","circle","circle"]}, "legend": null},
                  "size": {"field": "n", "type": "ordinal", "scale": {"domain": [0,1,2,3,4,5,6,7,8,9], "range": [28,26,28,26,28,26,12,26,26,12]}, "legend": null}}},
                {"data": {"name": "rings"}, "transform": [{"filter": "datum.r<=1"}, {"calculate": "datum.r*cos(3*PI/8)", "as": "tx"}, {"calculate": "datum.r*sin(3*PI/8)", "as": "ty"}],
                 "mark": {"type": "text", "align": "left", "baseline": "middle", "dx": 1, "dy": -3, "fontSize": 8.5, "font": "DejaVu Sans", "color": "#333333"},
                 "encoding": {"x": {"field": "tx", "type": "quantitative", "scale": {"domain": [-1.22, 1.22]}, "axis": null}, "y": {"field": "ty", "type": "quantitative", "scale": {"domain": [-1.42, 1.24]}, "axis": null}, "text": {"field": "r", "type": "quantitative", "format": ".1f"}}},
                {"data": {"name": "axes"}, "transform": [{"calculate": "PI/2-datum.i*PI/4", "as": "ang"}, {"calculate": "1.15*cos(datum.ang)", "as": "lx"}, {"calculate": "1.15*sin(datum.ang)", "as": "ly"}],
                 "mark": {"type": "text", "font": "Liberation Serif", "fontStyle": "italic", "fontSize": 12, "color": "#222222"},
                 "encoding": {"x": {"field": "lx", "type": "quantitative", "scale": {"domain": [-1.22, 1.22]}, "axis": null}, "y": {"field": "ly", "type": "quantitative", "scale": {"domain": [-1.42, 1.24]}, "axis": null}, "text": {"field": "lab", "type": "nominal"}}},
                {"data": {"name": "caps"}, "transform": [{"filter": "datum.p=='d'"}],
                 "mark": {"type": "text", "font": "Noto Sans CJK SC", "fontSize": 10.5, "color": "#333333"},
                 "encoding": {"x": {"datum": 0, "type": "quantitative", "scale": {"domain": [-1.22, 1.22]}, "axis": null}, "y": {"datum": -1.34, "type": "quantitative", "scale": {"domain": [-1.42, 1.24]}, "axis": null}, "text": {"field": "t", "type": "nominal"}}}
              ]
            }
          ]
        }
      ]
    },
    {
      "spacing": 20,
      "vconcat": [
        {
          "width": 213, "height": 317,
          "data": {"name": "series"},
          "layer": [
            {"mark": {"type": "rule", "strokeWidth": 1.5},
             "encoding": {"y": {"field": "n", "type": "quantitative", "scale": {"domain": [-11.06, 9], "reverse": true, "nice": false, "zero": false}, "axis": null},
              "x": {"datum": 0, "type": "quantitative", "scale": {"domain": [-0.727, 8.955]}, "axis": null}, "x2": {"datum": 1},
              "color": {"field": "n", "type": "ordinal", "scale": {"domain": [0,1,2,3,4,5,6,7,8,9], "range": ["#1f77b4","#ff7f0e","#2ca02c","#d62728","#9467bd","#8c564b","#e377c2","#7f7f7f","#bcbd22","#17becf"]}, "legend": null},
              "strokeDash": {"field": "n", "type": "ordinal", "scale": {"domain": [0,1,2,3,4,5,6,7,8,9], "range": [[1,0],[1,0],[7,2.5,1.5,2.5],[1.5,2.5],[1,0],[5,2.5],[7,2.5,1.5,2.5],[1,0],[5,2.5],[7,2.5,1.5,2.5]]}, "legend": null}}},
            {"mark": {"type": "point", "opacity": 1, "strokeWidth": 1.2, "fillOpacity": 1},
             "encoding": {"y": {"field": "n", "type": "quantitative", "scale": {"domain": [-11.06, 9], "reverse": true, "nice": false, "zero": false}, "axis": null},
              "x": {"datum": 0.5, "type": "quantitative", "scale": {"domain": [-0.727, 8.955]}, "axis": null},
              "color": {"field": "n", "type": "ordinal", "scale": {"domain": [0,1,2,3,4,5,6,7,8,9], "range": ["#1f77b4","#ff7f0e","#2ca02c","#d62728","#9467bd","#8c564b","#e377c2","#7f7f7f","#bcbd22","#17becf"]}, "legend": null},
              "fill": {"field": "n", "type": "ordinal", "scale": {"domain": [0,1,2,3,4,5,6,7,8,9], "range": ["#ffffff","#ffffff","#ffffff","#ffffff","#ffffff","#ffffff","#e377c2","#7f7f7f","#ffffff","#17becf"]}, "legend": null},
              "shape": {"field": "n", "type": "ordinal", "scale": {"domain": [0,1,2,3,4,5,6,7,8,9], "range": ["circle","square","triangle-up","diamond","triangle-down","circle","circle","M-1,0L-0.5,-0.866L0.5,-0.866L1,0L0.5,0.866L-0.5,0.866Z","circle","circle"]}, "legend": null},
              "size": {"field": "n", "type": "ordinal", "scale": {"domain": [0,1,2,3,4,5,6,7,8,9], "range": [28,26,28,26,28,26,12,26,26,12]}, "legend": null}}},
            {"mark": {"type": "text", "align": "left", "baseline": "middle", "font": "Noto Sans CJK SC", "fontSize": 9.5, "color": "#333333"},
             "encoding": {"y": {"field": "n", "type": "quantitative", "scale": {"domain": [-11.06, 9], "reverse": true, "nice": false, "zero": false}, "axis": null},
              "x": {"datum": 1.45, "type": "quantitative", "scale": {"domain": [-0.727, 8.955]}, "axis": null},
              "text": {"field": "s", "type": "nominal"}}}
          ]
        },
        {
          "width": 213, "height": 74,
          "data": {"name": "notes"},
          "layer": [
            {"mark": {"type": "text", "align": "left", "baseline": "middle", "font": "Liberation Serif", "fontStyle": "italic", "fontSize": 11, "color": "#222222"},
             "encoding": {"y": {"field": "sym", "type": "nominal", "sort": null, "scale": {"type": "point", "padding": 0.5}, "axis": null},
              "x": {"datum": 0.061, "type": "quantitative", "scale": {"domain": [0, 1]}, "axis": null},
              "text": {"field": "sym", "type": "nominal"}}},
            {"mark": {"type": "text", "align": "left", "baseline": "middle", "font": "Noto Sans CJK SC", "fontSize": 9.8, "color": "#333333"},
             "encoding": {"y": {"field": "sym", "type": "nominal", "sort": null, "scale": {"type": "point", "padding": 0.5}, "axis": null},
              "x": {"datum": 0.19, "type": "quantitative", "scale": {"domain": [0, 1]}, "axis": null},
              "text": {"field": "desc", "type": "nominal"}}}
          ]
        }
      ]
    }
  ]
}
